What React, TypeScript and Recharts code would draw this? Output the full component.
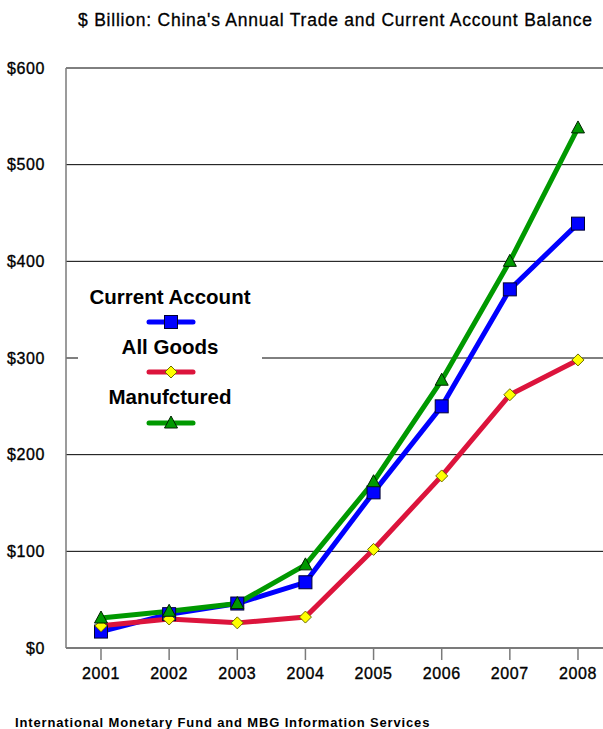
import React from "react";
import { LineChart, Line, XAxis, YAxis, CartesianGrid, Legend } from "recharts";

const years = [2001, 2002, 2003, 2004, 2005, 2006, 2007, 2008];
const currentAccount = [17, 35, 46, 68, 161, 250, 371, 439];
const allGoods = [23, 30, 26, 32, 102, 178, 262, 298];
const manufactured = [31, 38, 46, 86, 172, 277, 400, 538];
const yTicks = [0, 100, 200, 300, 400, 500, 600];
const seriesNames = ["Current Account", "All Goods", "Manufctured"];
const titleText = "$ Billion: China's Annual Trade and Current Account Balance";
const sourceText = "International Monetary Fund and MBG Information Services";

const data = years.map((year, i) => ({
  year,
  ca: currentAccount[i],
  goods: allGoods[i],
  manu: manufactured[i],
}));

const FONT = "'Liberation Sans', Arial, sans-serif";
const BLUE = "#0000ff";
const RED = "#dc143c";
const GREEN = "#009900";

const Square = ({ cx, cy }: { cx: number; cy: number }) => (
  <rect x={cx - 6.5} y={cy - 6.5} width={13} height={13} fill={BLUE} stroke="#000033" strokeWidth={1} />
);
const Diamond = ({ cx, cy }: { cx: number; cy: number }) => (
  <polygon
    points={`${cx},${cy - 6} ${cx + 6},${cy} ${cx},${cy + 6} ${cx - 6},${cy}`}
    fill="#ffff00"
    stroke="#6b6b00"
    strokeWidth={1}
  />
);
const Triangle = ({ cx, cy }: { cx: number; cy: number }) => (
  <polygon
    points={`${cx},${cy - 7} ${cx + 6.5},${cy + 5} ${cx - 6.5},${cy + 5}`}
    fill={GREEN}
    stroke="#002200"
    strokeWidth={1}
  />
);

const dotFn = (Comp: any, name: string) => (p: any) => (
  <Comp key={`${name}-${p.index}`} cx={p.cx} cy={p.cy} />
);

const YTick = (p: any) => (
  <text
    x={p.x}
    y={p.y}
    dy="0.36em"
    textAnchor="end"
    fontFamily={FONT}
    fontSize={16}
    letterSpacing={0.6}
    fill="#000"
    stroke="#000"
    strokeWidth={0.35}
  >
    {`$${p.payload.value}`}
  </text>
);

const XTick = (p: any) => (
  <text
    x={p.x}
    y={p.y}
    dy="0.71em"
    textAnchor="middle"
    fontFamily={FONT}
    fontSize={16}
    letterSpacing={0.6}
    fill="#000"
    stroke="#000"
    strokeWidth={0.35}
  >
    {p.payload.value}
  </text>
);

const LegendContent = () => {
  const rows = [
    { name: seriesNames[0], color: BLUE, Marker: Square, ty: 32, ly: 50 },
    { name: seriesNames[1], color: RED, Marker: Diamond, ty: 82, ly: 100 },
    { name: seriesNames[2], color: GREEN, Marker: Triangle, ty: 132, ly: 151 },
  ];
  return (
    <svg width={184} height={165} style={{ display: "block", background: "#fff" }}>
      {rows.map((r) => (
        <g key={r.name}>
          <text
            x={92}
            y={r.ty}
            textAnchor="middle"
            fontFamily={FONT}
            fontWeight="bold"
            fontSize={20.5}
            fill="#000"
          >
            {r.name}
          </text>
          <line x1={71} x2={115} y1={r.ly} y2={r.ly} stroke={r.color} strokeWidth={5} strokeLinecap="round" />
          <r.Marker cx={93} cy={r.ly} />
        </g>
      ))}
    </svg>
  );
};

export default function App() {
  return (
    <div style={{ position: "absolute", left: 0, top: 0, width: 603, height: 729, background: "#fff" }}>
      <LineChart
        width={603}
        height={729}
        data={data}
        margin={{ top: 68, right: 0, bottom: 0, left: 0 }}
      >
        <CartesianGrid vertical={false} stroke="#000" strokeWidth={1} />
        <XAxis
          dataKey="year"
          type="number"
          domain={[2000.4864, 2008.367]}
          allowDataOverflow
          ticks={years}
          height={81}
          tickSize={12}
          tickMargin={8}
          axisLine={{ stroke: "#7a7a7a", strokeWidth: 1.5 }}
          tickLine={{ stroke: "#7a7a7a", strokeWidth: 1.5 }}
          tick={<XTick />}
          interval={0}
        />
        <YAxis
          type="number"
          domain={[0, 600]}
          ticks={yTicks}
          width={66}
          tickLine={false}
          tickSize={0}
          tickMargin={21}
          axisLine={{ stroke: "#7a7a7a", strokeWidth: 1.5 }}
          tick={<YTick />}
          interval={0}
        />
        <Legend
          layout="vertical"
          align="center"
          verticalAlign="middle"
          content={<LegendContent />}
          wrapperStyle={{ left: 78, top: 272, width: 184, height: 165 }}
        />
        <Line
          dataKey="ca"
          name={seriesNames[0]}
          stroke={BLUE}
          strokeWidth={5}
          isAnimationActive={false}
          dot={dotFn(Square, "ca")}
          activeDot={false}
        />
        <Line
          dataKey="goods"
          name={seriesNames[1]}
          stroke={RED}
          strokeWidth={5}
          isAnimationActive={false}
          dot={dotFn(Diamond, "goods")}
          activeDot={false}
        />
        <Line
          dataKey="manu"
          name={seriesNames[2]}
          stroke={GREEN}
          strokeWidth={5}
          isAnimationActive={false}
          dot={dotFn(Triangle, "manu")}
          activeDot={false}
        />
      </LineChart>
      <svg
        width={603}
        height={729}
        style={{ position: "absolute", left: 0, top: 0, pointerEvents: "none" }}
      >
        <text
          x={78}
          y={26}
          fontFamily={FONT}
          fontSize={17.5}
          letterSpacing={0.77}
          fill="#000"
          stroke="#000"
          strokeWidth={0.3}
        >
          {titleText}
        </text>
        <text x={15} y={727} fontFamily={FONT} fontWeight="bold" fontSize={13} letterSpacing={0.85} fill="#000">
          {sourceText}
        </text>
      </svg>
    </div>
  );
}
